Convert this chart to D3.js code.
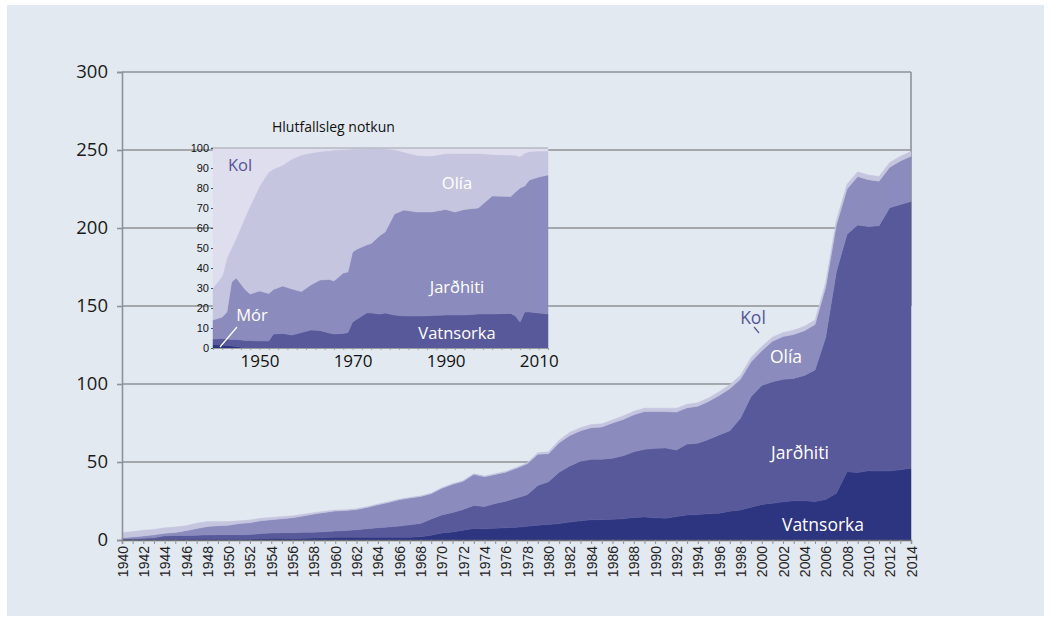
<!DOCTYPE html>
<html lang="is">
<head>
<meta charset="utf-8">
<title>Frumorkunotkun</title>
<script src="https://cdn.jsdelivr.net/npm/d3@7"></script>
<style>
  html, body { margin: 0; padding: 0; background: #fff; }
  svg { display: block; }
  .lbl { font-family: "Open Sans", sans-serif; }
</style>
</head>
<body>
<script>
// Main chart, yearly values
var years = d3.range(1940, 2015);
var mor = [0.1,0.1,0.1,0.1,0.05,0.05,0.02,0,0,0, 0,0,0,0,0,0,0,0,0,0, 0,0,0,0,0,0,0,0,0,0,
  0,0,0,0,0,0,0,0,0,0, 0,0,0,0,0,0,0,0,0,0, 0,0,0,0,0,0,0,0,0,0, 0,0,0,0,0,0,0,0,0,0, 0,0,0,0,0];
var vatnsorka = [0.2,0.2,0.25,0.3,0.35,0.35,0.43,0.5,0.5,0.5,
  0.45,0.45,0.45,1.0,1.05,1.1,1.0,1.1,1.3,1.4,
  1.7,1.75,1.75,1.8,1.8,1.8,1.8,1.8,2.1,3.0,
  4.5,5.2,6.3,7.4,7.2,7.5,7.8,8.2,8.8,9.5,
  10.0,10.5,11.5,12.3,13.0,13.0,13.3,13.6,14.5,14.8,
  14.2,14.0,15.0,16.0,16.3,16.8,17.1,18.5,19.2,21.0,
  22.8,23.5,24.5,25.2,25.2,24.6,26.0,30.0,43.8,43.2,
  44.4,44.2,44.4,45.0,46.0];
var jardhiti = [0.5,0.6,0.75,1.0,2.3,2.5,2.45,2.6,2.8,2.9,
  2.95,2.95,3.05,3.1,3.45,3.6,3.7,3.8,3.7,3.9,
  4.1,4.35,4.85,5.4,6.1,6.6,7.1,7.9,8.5,10.5,
  11.6,12.4,13.3,14.7,14.2,15.9,17.1,18.8,20.2,25.5,
  27.4,33.0,36.0,38.2,38.7,38.8,39.1,40.4,42.1,43.3,
  44.6,45.0,42.7,45.5,45.7,47.7,50.2,51.5,58.8,71.0,
  76.2,78.0,78.5,78.4,80.3,84.4,104.0,142.0,152.2,158.8,
  156.6,157.3,168.6,170.0,171.0];
var olia = [0.7,1.1,1.5,1.9,1.6,1.9,3.1,4.2,5.3,5.8,
  6.1,7.1,7.6,8.2,8.5,8.9,9.6,10.5,11.6,12.4,
  12.8,12.8,12.9,13.7,14.7,15.7,16.9,17.2,17.3,16.2,
  17.1,18.1,18.1,20.0,19.2,18.6,18.6,19.0,19.8,20.0,
  17.9,18.8,19.5,19.5,20.3,20.7,22.6,23.3,23.7,24.2,
  23.5,23.3,24.3,23.3,23.8,24.3,25.3,27.0,25.0,22.3,
  22.3,25.9,27.4,28.2,28.7,29.2,32.0,30.0,29.0,31.0,
  30.0,28.5,26.0,28.0,29.0];
var kol = [3.2,3.4,3.6,3.5,3.5,3.5,3.2,3.5,3.2,2.7,
  2.3,1.8,1.7,1.6,1.5,1.4,1.2,1.1,0.9,0.8,
  0.6,0.5,0.5,0.4,0.4,0.4,0.4,0.4,0.3,0.3,
  0.3,0.3,0.3,0.4,0.4,0.5,0.5,0.5,0.7,1.0,
  1.2,1.7,2.0,2.0,2.0,2.0,2.0,2.2,2.2,2.2,
  2.2,2.2,2.5,2.2,2.2,2.2,2.4,2.5,2.5,2.7,
  2.7,2.6,2.6,2.7,2.8,2.8,3.0,3.0,3.0,3.0,
  3.0,3.0,3.0,3.0,3.0];
var yTicks = [0, 50, 100, 150, 200, 250, 300];

// Inset: share of use, percent
var insetYears = [1940,1942,1943,1944,1945,1947,1948,1950,1952,1953,1955,1957,1959,1961,1963,1965,1966,1968,1969,1970,
  1971,1973,1974,1976,1977,1979,1981,1984,1987,1990,1992,1994,1997,1999,2000,2004,2005,2006,2007,2008,2010,2012];
var morPct = [1.5,1.5,1.3,1.0,0.7,0,0,0,0,0,0,0,0,0,0,0,0,0,0,0,
  0,0,0,0,0,0,0,0,0,0,0,0,0,0,0,0,0,0,0,0,0,0];
var vatnsorkaPct = [3.0,3.3,3.2,3.3,3.6,3.8,3.7,3.5,3.5,7.0,7.3,6.5,7.7,9.0,8.7,7.5,7.0,7.3,7.7,13.0,
  14.5,17.5,17.5,17.0,17.5,16.5,16.0,16.0,16.2,16.5,16.5,16.5,17.0,17.0,17.0,17.3,16.0,13.0,18.0,18.0,17.5,17.0];
var jardhitiPct = [9.5,10.7,13.5,28.7,30.7,25.2,23.3,25.0,23.8,22.3,23.7,23.0,20.5,22.5,25.3,26.8,26.5,30.2,30.3,35.0,
  35.0,34.0,34.8,39.5,40.5,50.5,53.0,52.0,51.8,52.8,51.5,52.8,53.0,57.0,59.0,58.4,62.0,67.0,63.0,66.0,68.0,69.5];
var oliaPct = [16.0,20.5,27.0,17.0,20.0,37.0,44.0,52.5,60.7,60.2,60.5,65.0,68.3,66.0,64.3,64.4,65.5,61.7,61.4,51.5,
  50.1,48.2,47.4,43.2,41.6,32.3,29.0,28.3,28.0,28.0,29.2,28.0,27.3,23.0,20.8,20.8,18.4,15.7,16.5,14.2,13.0,12.0];
var kolPct = [70,64,55,50,45,34,29,19,12,10.5,8.5,5.5,3.5,2.5,1.7,1.3,1.0,0.8,0.6,0.5,
  0.4,0.3,0.3,0.3,0.4,0.7,2.0,3.7,4.0,2.7,2.8,2.7,2.7,3.0,3.2,3.5,3.6,4.3,2.5,1.8,1.5,1.5];
var insetYTicks = d3.range(0, 101, 10);
var insetXTicks = [1950, 1970, 1990, 2010];

var keys = ["mor", "vatnsorka", "jardhiti", "olia", "kol"];
var mainColors = {mor: "#2d3480", vatnsorka: "#2d3480", jardhiti: "#58599b", olia: "#8b8bbd", kol: "#c5c5df"};
var insetColors = {mor: "#2d3480", vatnsorka: "#58599b", jardhiti: "#8b8bbd", olia: "#c5c5df", kol: "#dedeee"};

var W = 1051, H = 621;
var svg = d3.select("body").append("svg").attr("width", W).attr("height", H);

svg.append("rect").attr("x", 7).attr("y", 5).attr("width", W - 14).attr("height", H - 10)
  .attr("fill", "#e3e9f0");

// ---- main chart ----
var x = d3.scaleLinear().domain([1940, 2014]).range([122, 911]);
var y = d3.scaleLinear().domain([0, 300]).range([540, 72]);

var mainRows = years.map(function(yr, i) {
  return {year: yr, mor: mor[i], vatnsorka: vatnsorka[i], jardhiti: jardhiti[i], olia: olia[i], kol: kol[i]};
});
var mainStack = d3.stack().keys(keys)(mainRows);

svg.append("g").selectAll("line").data(yTicks.slice(1)).enter().append("line")
  .attr("x1", x(1940)).attr("x2", x(2014))
  .attr("y1", function(d) { return y(d); }).attr("y2", function(d) { return y(d); })
  .attr("stroke", "#8f9296").attr("stroke-width", 1.6);
svg.append("line").attr("x1", x(2014)).attr("x2", x(2014)).attr("y1", y(300)).attr("y2", y(150))
  .attr("stroke", "#8f9296").attr("stroke-width", 1.6);

var area = d3.area()
  .x(function(d) { return x(d.data.year); })
  .y0(function(d) { return y(d[0]); })
  .y1(function(d) { return y(d[1]); });

svg.append("g").selectAll("path").data(mainStack).enter().append("path")
  .attr("d", area)
  .attr("fill", function(d) { return mainColors[d.key]; })
  .attr("stroke", function(d) { return mainColors[d.key]; })
  .attr("stroke-width", 0.5);

var yAxis = svg.append("g").attr("transform", "translate(" + x(1940) + ",0)")
  .call(d3.axisLeft(y).tickValues(yTicks).tickSize(5).tickPadding(9));
yAxis.select(".domain").attr("stroke", "#8f9296").attr("stroke-width", 1.6);
yAxis.selectAll(".tick line").attr("stroke", "#8f9296").attr("stroke-width", 1.6);
yAxis.selectAll("text").attr("font-family", "Open Sans, sans-serif").attr("font-size", 18.5)
  .attr("fill", "#1a1a1a");

var xAxis = svg.append("g").attr("transform", "translate(0," + y(0) + ")")
  .call(d3.axisBottom(x).tickValues(years).tickSize(4)
    .tickFormat(function(d) { return d % 2 === 0 ? String(d) : ""; }));
xAxis.select(".domain").attr("stroke", "#6b6d72").attr("stroke-width", 1.4);
xAxis.selectAll(".tick line").attr("stroke", "#8f9296");
xAxis.selectAll("text")
  .attr("transform", "rotate(-90)")
  .attr("x", -6).attr("y", 0).attr("dy", "0.36em")
  .style("text-anchor", "end")
  .attr("font-family", "Liberation Sans, Arial, sans-serif").attr("font-size", 14)
  .attr("fill", "#222");

function label(g, txt, cx, by, size, color) {
  g.append("text").attr("class", "lbl").attr("x", cx).attr("y", by)
    .attr("text-anchor", "middle").attr("font-size", size).attr("fill", color).text(txt);
}
label(svg, "Vatnsorka", 823, 531, 17.5, "#fff");
label(svg, "Jarðhiti", 800, 459, 17.5, "#fff");
label(svg, "Olía", 786, 363, 17.5, "#fff");
label(svg, "Kol", 753, 324, 17.5, "#55559a");
svg.append("line").attr("x1", 754).attr("y1", 327).attr("x2", 759).attr("y2", 333)
  .attr("stroke", "#55559a").attr("stroke-width", 1.2);

// ---- inset ----
var ix = d3.scaleLinear().domain([1940, 2012]).range([213, 548]);
var iy = d3.scaleLinear().domain([0, 100]).range([348, 148]);

var insetRows = insetYears.map(function(yr, i) {
  return {year: yr, mor: morPct[i], vatnsorka: vatnsorkaPct[i], jardhiti: jardhitiPct[i], olia: oliaPct[i], kol: kolPct[i]};
});
var insetStack = d3.stack().keys(keys)(insetRows);

var inset = svg.append("g");
inset.append("rect").attr("x", ix(1940)).attr("y", iy(100))
  .attr("width", ix(2012) - ix(1940)).attr("height", iy(0) - iy(100))
  .attr("fill", insetColors.kol);

var iarea = d3.area()
  .x(function(d) { return ix(d.data.year); })
  .y0(function(d) { return iy(d[0]); })
  .y1(function(d) { return iy(d[1]); });

inset.append("g").selectAll("path").data(insetStack).enter().append("path")
  .attr("d", iarea)
  .attr("fill", function(d) { return insetColors[d.key]; })
  .attr("stroke", function(d) { return insetColors[d.key]; })
  .attr("stroke-width", 0.5);

inset.append("line").attr("x1", ix(1940) - 2).attr("x2", ix(2012)).attr("y1", iy(100)).attr("y2", iy(100))
  .attr("stroke", "#a2a4aa").attr("stroke-width", 1.2);

var iyAxis = inset.append("g").attr("transform", "translate(" + ix(1940) + ",0)")
  .call(d3.axisLeft(iy).tickValues(insetYTicks).tickSize(2).tickPadding(2));
iyAxis.select(".domain").remove();
iyAxis.selectAll(".tick line").attr("stroke", "#555");
iyAxis.selectAll("text").attr("font-family", "Liberation Sans Narrow, Arial Narrow, sans-serif")
  .attr("font-size", 11).attr("fill", "#111");

var ixAxis = inset.append("g").attr("transform", "translate(0," + iy(0) + ")")
  .call(d3.axisBottom(ix).tickValues(d3.range(1940, 2013, 2)).tickSize(2)
    .tickFormat(function(d) { return insetXTicks.indexOf(d) >= 0 ? String(d) : ""; }));
ixAxis.select(".domain").attr("stroke", "#9a9ca2");
ixAxis.selectAll(".tick line").attr("stroke", "#9a9ca2");
ixAxis.selectAll("text").attr("font-family", "Open Sans, sans-serif").attr("font-size", 17)
  .attr("fill", "#111").attr("y", 7);

inset.append("text").attr("class", "lbl").attr("x", 272).attr("y", 132)
  .attr("font-size", 14).attr("fill", "#111").text("Hlutfallsleg notkun");

label(inset, "Kol", 240, 171, 16.5, "#55559a");
label(inset, "Olía", 457, 189, 16.5, "#fff");
label(inset, "Jarðhiti", 457, 293, 16.5, "#fff");
label(inset, "Vatnsorka", 457, 339, 16.5, "#fff");
label(inset, "Mór", 252, 321, 16.5, "#fff");
inset.append("line").attr("x1", 220).attr("y1", 347).attr("x2", 237).attr("y2", 327)
  .attr("stroke", "#fff").attr("stroke-width", 1.2);
</script>
</body>
</html>
